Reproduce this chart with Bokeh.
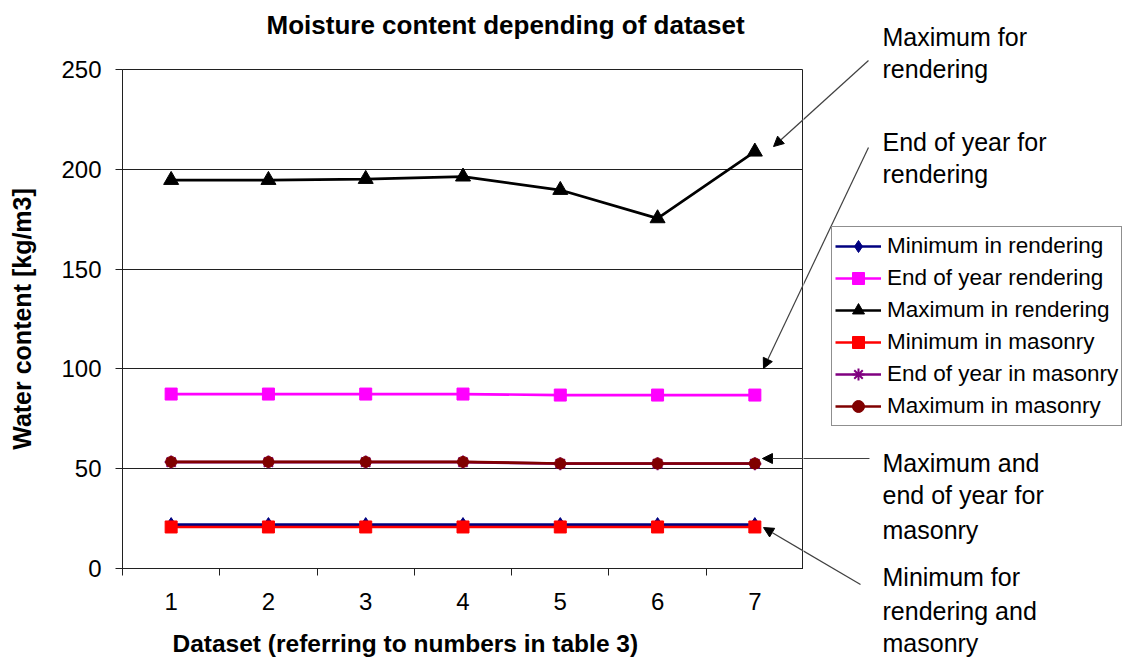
import math
from bokeh.plotting import figure
from bokeh.layouts import row
from bokeh.models import (Range1d, FixedTicker, Legend, LegendItem, Arrow,
                          NormalHead, Label, Title)
from bokeh.embed import file_html
from bokeh.resources import INLINE

# ---- data ----
datasets = [1, 2, 3, 4, 5, 6, 7]
min_rendering = [22.0, 22.0, 22.0, 22.0, 22.0, 22.0, 22.0]
end_year_rendering = [87.4, 87.4, 87.4, 87.4, 86.9, 86.9, 86.9]
max_rendering = [194.6, 194.6, 195.1, 196.3, 189.6, 175.4, 208.8]
min_masonry = [20.8, 20.8, 20.8, 20.8, 20.8, 20.8, 20.8]
end_year_masonry = [53.3, 53.3, 53.3, 53.3, 52.5, 52.5, 52.5]
max_masonry = [53.4, 53.4, 53.4, 53.4, 52.6, 52.6, 52.6]
y_ticks = [0, 50, 100, 150, 200, 250]

FONT = "Liberation Sans"
INK = "#202020"

X0, X1 = 0.5, 7.5
Y0, Y1 = 0, 250
FRAME_W, FRAME_H = 681, 499
TOP, BOTTOM = 69, 90
RIGHT_W = 324
PX_X = FRAME_W / (X1 - X0)      # pixels per x unit
PX_Y = FRAME_H / (Y1 - Y0)      # pixels per y unit

p = figure(width=122 + FRAME_W, height=658, x_range=Range1d(X0, X1), y_range=Range1d(Y0, Y1),
           output_backend="svg", toolbar_location=None,
           min_border_left=122, min_border_right=0, min_border_top=TOP, min_border_bottom=BOTTOM)
p.frame_align = False
p.background_fill_color = "white"
p.border_fill_color = "white"
p.outline_line_color = INK
p.outline_line_width = 1

p.add_layout(Title(text="Moisture content depending of dataset", text_font=FONT,
                   text_font_size="26px", text_font_style="bold", text_color="black",
                   align="left", offset=144, standoff=0, vertical_align="bottom",
                   padding=dict(left=0, right=0, top=0, bottom=30)), "above")

# axes
p.xaxis.ticker = FixedTicker(ticks=datasets,
                             minor_ticks=[d - 0.5 for d in datasets] + [datasets[-1] + 0.5])
p.xaxis.major_tick_out = 0
p.xaxis.major_tick_in = 0
p.xaxis.minor_tick_out = 7
p.xaxis.minor_tick_in = 0
p.xaxis.minor_tick_line_color = INK
p.xaxis.major_label_standoff = 17
p.yaxis.ticker = FixedTicker(ticks=y_ticks, minor_ticks=[])
p.yaxis.major_tick_out = 7
p.yaxis.major_tick_in = 0
p.yaxis.major_label_standoff = 14
p.yaxis.axis_label = "Water content [kg/m3]"
p.yaxis.axis_label_text_font = FONT
p.yaxis.axis_label_text_font_size = "25px"
p.yaxis.axis_label_text_font_style = "bold"
p.yaxis.axis_label_text_color = "black"
p.yaxis.axis_label_standoff = 22
for ax in (p.xaxis, p.yaxis):
    ax.axis_line_color = INK
    ax.major_tick_line_color = INK
    ax.major_label_text_font = FONT
    ax.major_label_text_font_size = "24px"
    ax.major_label_text_color = "black"
p.xgrid.visible = False
p.ygrid.grid_line_color = INK
p.ygrid.grid_line_width = 1

p.add_layout(Title(text="Dataset (referring to numbers in table 3)", text_font=FONT,
                   text_font_size="24.5px", text_font_style="bold", text_color="black",
                   align="left", offset=50, standoff=0, vertical_align="top",
                   padding=dict(left=0, right=0, top=17, bottom=0)), "below")

# series
series = [
    ("Minimum in rendering", min_rendering, "#000080", "diamond", 14),
    ("End of year rendering", end_year_rendering, "#FF00FF", "square", 12),
    ("Maximum in rendering", max_rendering, "black", "triangle", 15),
    ("Minimum in masonry", min_masonry, "#FF0000", "square", 12),
    ("End of year in masonry", end_year_masonry, "#800080", "asterisk", 13),
    ("Maximum in masonry", max_masonry, "#800000", "circle", 11),
]

# right-hand panel: continues the main figure's coordinate system
p2 = figure(width=RIGHT_W, height=658,
            x_range=Range1d(X1, X1 + RIGHT_W / PX_X),
            y_range=Range1d(Y0 - BOTTOM / PX_Y, Y1 + TOP / PX_Y),
            output_backend="svg", toolbar_location=None,
            x_axis_location=None, y_axis_location=None,
            min_border_left=0, min_border_right=0, min_border_top=0, min_border_bottom=0)
p2.frame_align = False
p2.outline_line_color = None
p2.background_fill_color = "white"
p2.border_fill_color = "white"
p2.xgrid.visible = False
p2.ygrid.visible = False

items = []
for name, vals, color, marker, size in series:
    lw = 2 if marker == "asterisk" else 1
    p.line(datasets, vals, line_color=color, line_width=2.7)
    p.scatter(datasets, vals, marker=marker, size=size, fill_color=color,
              line_color=color, line_width=lw)
    # legend proxies (hidden) in the right-hand panel
    r1 = p2.line(datasets, vals, line_color=color, line_width=2.5, visible=False)
    r2 = p2.scatter(datasets, vals, marker=marker, size=size, fill_color=color,
                    line_color=color, line_width=lw, visible=False)
    items.append(LegendItem(label=name, renderers=[r1, r2]))

# arrows (drawn in both panels so they cross the boundary)
arrows = [
    (8.168, 254.5, 7.192, 211.4),
    (8.168, 210.9, 7.089, 100.2),
    (8.178, 55.1, 7.078, 55.1),
    (8.086, -8.0, 7.089, 20.5),
]
for fig in (p, p2):
    for xs, ys, xe, ye in arrows:
        fig.add_layout(Arrow(x_start=xs, y_start=ys, x_end=xe, y_end=ye,
                             line_color="#404040", line_width=1.2,
                             end=NormalHead(size=10, fill_color="black",
                                            line_color="black", line_width=1)))

# annotation texts
notes = [
    ("Maximum for", 266.5), ("rendering", 250.5),
    ("End of year for", 213.9), ("rendering", 197.4),
    ("Maximum and", 53.1), ("end of year for", 36.6), ("masonry", 19.5),
    ("Minimum for", -4.5), ("rendering and", -21.1), ("masonry", -37.4),
]
for txt, yy in notes:
    p2.add_layout(Label(x=8.312, y=yy, text=txt, text_font=FONT, text_font_size="25px",
                        text_align="left", text_baseline="alphabetic", text_color="black"))

legend = Legend(items=items, location=(28, 232), label_text_font=FONT,
                label_text_font_size="22.5px", label_text_color="black",
                glyph_width=46, glyph_height=30, label_height=32, label_standoff=6,
                spacing=0, padding=3, margin=0, border_line_color=INK,
                border_line_width=1, background_fill_color="white", background_fill_alpha=1.0)
p2.add_layout(legend, "center")

layout = row(p, p2, spacing=0)
open("out.html", "w").write(file_html(layout, INLINE))
